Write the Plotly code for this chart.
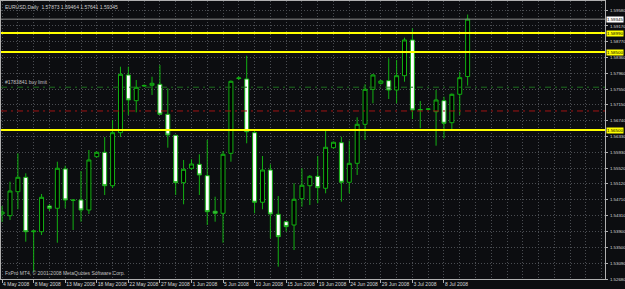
import datetime as dt
import plotly.graph_objects as go

# ---- data (EURUSD daily) ----
dates = [
    "2008-05-04", "2008-05-05", "2008-05-06", "2008-05-07", "2008-05-08", "2008-05-09",
    "2008-05-11", "2008-05-12", "2008-05-13", "2008-05-14", "2008-05-15", "2008-05-16",
    "2008-05-18", "2008-05-19", "2008-05-20", "2008-05-21", "2008-05-22", "2008-05-23",
    "2008-05-25", "2008-05-26", "2008-05-27", "2008-05-28", "2008-05-29", "2008-05-30",
    "2008-06-01", "2008-06-02", "2008-06-03", "2008-06-04", "2008-06-05", "2008-06-06",
    "2008-06-08", "2008-06-09", "2008-06-10", "2008-06-11", "2008-06-12", "2008-06-13",
    "2008-06-15", "2008-06-16", "2008-06-17", "2008-06-18", "2008-06-19", "2008-06-20",
    "2008-06-22", "2008-06-23", "2008-06-24", "2008-06-25", "2008-06-26", "2008-06-27",
    "2008-06-29", "2008-06-30", "2008-07-01", "2008-07-02", "2008-07-03", "2008-07-04",
    "2008-07-06", "2008-07-07", "2008-07-08", "2008-07-09", "2008-07-10", "2008-07-11",
]
opens = [
    1.54347, 1.54304, 1.54919, 1.55289, 1.53893, 1.53893,
    1.54553, 1.54494, 1.55502, 1.54707, 1.54707, 1.54450,
    1.55817, 1.55930, 1.55073, 1.56433, 1.57913, 1.57254,
    1.57630, 1.57649, 1.57674, 1.56905, 1.56366, 1.55150,
    1.55520, 1.55622, 1.55330, 1.54417, 1.54365, 1.55904,
    1.57823, 1.57810, 1.56433, 1.54648, 1.55476, 1.54340,
    1.54150, 1.54065, 1.54740, 1.55073, 1.55314, 1.55007,
    1.56048, 1.56176, 1.55161, 1.55648, 1.56648, 1.57546,
    1.57700, 1.57767, 1.57528, 1.57895, 1.58811, 1.57015,
    1.57033, 1.56971, 1.57254, 1.56689, 1.57418, 1.57873,
]
highs = [
    1.54553, 1.55176, 1.55904, 1.55391, 1.53924, 1.54860,
    1.54604, 1.55689, 1.55586, 1.54719, 1.55450, 1.55989,
    1.55951, 1.56322, 1.56759, 1.58126, 1.58126, 1.57785,
    1.57669, 1.57869, 1.58169, 1.57572, 1.56374, 1.55733,
    1.55750, 1.55879, 1.56246, 1.54791, 1.55963, 1.57772,
    1.57874, 1.58408, 1.56502, 1.55835, 1.55622, 1.54809,
    1.54168, 1.55135, 1.55520, 1.55348, 1.55835, 1.56484,
    1.56207, 1.56330, 1.56228, 1.56828, 1.57674, 1.57938,
    1.57785, 1.58341, 1.58298, 1.58870, 1.59111, 1.57246,
    1.57066, 1.57528, 1.57356, 1.57438, 1.57997, 1.59464,
]
lows = [
    1.54142, 1.54194, 1.54468, 1.53637, 1.52860, 1.53809,
    1.54424, 1.53611, 1.54494, 1.53937, 1.54150, 1.54347,
    1.55797, 1.54835, 1.55014, 1.56322, 1.56887, 1.56956,
    1.57605, 1.57400, 1.56887, 1.56048, 1.54835, 1.54596,
    1.55476, 1.54835, 1.54065, 1.54150, 1.53611, 1.55689,
    1.57785, 1.56161, 1.54365, 1.54468, 1.53724, 1.52996,
    1.53893, 1.53424, 1.54535, 1.54578, 1.54622, 1.54878,
    1.56028, 1.54663, 1.54878, 1.55348, 1.56246, 1.57187,
    1.57669, 1.57297, 1.57187, 1.57741, 1.56784, 1.56546,
    1.57002, 1.56099, 1.56289, 1.56502, 1.56887, 1.57641,
]
closes = [
    1.54399, 1.54937, 1.55289, 1.53893, 1.53911, 1.54776,
    1.54494, 1.55520, 1.54707, 1.54699, 1.54450, 1.55733,
    1.55930, 1.55073, 1.56433, 1.57931, 1.57272, 1.57597,
    1.57644, 1.57700, 1.56905, 1.56374, 1.55150, 1.55494,
    1.55630, 1.55348, 1.54406, 1.54365, 1.55879, 1.57751,
    1.57836, 1.56458, 1.54648, 1.55476, 1.54347, 1.53765,
    1.54022, 1.54725, 1.55084, 1.55314, 1.55022, 1.56058,
    1.56187, 1.55161, 1.55648, 1.56648, 1.57546, 1.57913,
    1.57759, 1.57528, 1.57895, 1.58811, 1.57015, 1.57028,
    1.57041, 1.57272, 1.56674, 1.57418, 1.57844, 1.59345,
]
price_ticks = [1.52680, 1.53090, 1.53500, 1.53900, 1.54310, 1.54710, 1.55120, 1.55520,
               1.55930, 1.56330, 1.56740, 1.57150, 1.57550, 1.57960, 1.58360, 1.58770,
               1.59170, 1.59580]
yellow_levels = [1.58990, 1.58500, 1.56500]
buy_limit_level = 1.57600
stop_level = 1.56990
buy_limit_label = "#1783841 buy limit"
symbol_label = "EURUSD,Daily"
footer_label = "FxPro MT4, © 2001-2008 MetaQuotes Software Corp."

# ---- layout helpers ----
BG = "#0c0d10"
GRID = "#4a4d52"
GRID_DASH = "1px,2px"
GREEN = "#12b012"
FONT = "Liberation Sans"
FS = 5
FS_Y = 4.4

x = list(range(len(dates)))
label_step = 4
label_pos = [i for i in x if i % label_step == 0]
label_txt = []
for i in label_pos:
    d = dt.date.fromisoformat(dates[i])
    label_txt.append(f"{d.day} {d.strftime('%b')} {d.year}")
x_max = 76.41
grid_pos = list(range(0, 77, 2))

fig = go.Figure()
fig.add_trace(go.Candlestick(
    x=x, open=opens, high=highs, low=lows, close=closes,
    increasing=dict(line=dict(color=GREEN, width=1), fillcolor="#000000"),
    decreasing=dict(line=dict(color=GREEN, width=1), fillcolor="#ffffff"),
    whiskerwidth=0, showlegend=False, hoverinfo="skip",
))

shapes = []
shapes.append(dict(type="line", xref="paper", x0=0, x1=1, yref="y",
                   y0=closes[-1], y1=closes[-1], line=dict(color="#8a8a8a", width=1)))
shapes.append(dict(type="line", xref="paper", x0=0, x1=1, yref="y",
                   y0=buy_limit_level, y1=buy_limit_level,
                   line=dict(color="#1e6e1e", width=1, dash="6px,4px,2px,4px")))
shapes.append(dict(type="line", xref="paper", x0=0, x1=1, yref="y",
                   y0=stop_level, y1=stop_level,
                   line=dict(color="#a01414", width=1, dash="6px,4px,2px,4px")))
for lv in yellow_levels:
    shapes.append(dict(type="line", xref="paper", x0=0, x1=1, yref="y",
                       y0=lv, y1=lv, line=dict(color="#ffff00", width=2)))

annotations = []
annotations.append(dict(
    xref="paper", yref="paper", x=0.003, y=0.998, xanchor="left", yanchor="top",
    text=f"{symbol_label}  {opens[-1]:.5f} {highs[-1]:.5f} {lows[-1]:.5f} {closes[-1]:.5f}",
    showarrow=False, font=dict(family=FONT, size=FS, color="#d0d0d0")))
annotations.append(dict(
    xref="paper", yref="paper", x=0.003, y=0.004, xanchor="left", yanchor="bottom",
    text=footer_label, showarrow=False, font=dict(family=FONT, size=FS, color="#c0c0c0")))
annotations.append(dict(
    xref="paper", yref="y", x=0.003, y=buy_limit_level, xanchor="left", yanchor="bottom",
    text=buy_limit_label, showarrow=False,
    font=dict(family=FONT, size=FS, color="#c0c0c0")))
for lv in yellow_levels:
    annotations.append(dict(
        xref="paper", yref="y", x=1, y=lv, xanchor="left", yanchor="middle", xshift=1,
        text=f"{lv:.5f}", showarrow=False, bgcolor="#ffff00", borderpad=0,
        font=dict(family=FONT, size=FS_Y, color="#000000")))
annotations.append(dict(
    xref="paper", yref="y", x=1, y=closes[-1], xanchor="left", yanchor="middle", xshift=1,
    text=f"{closes[-1]:.5f}", showarrow=False, bgcolor="#ffffff", borderpad=0,
    font=dict(family=FONT, size=FS_Y, color="#000000")))

fig.update_layout(
    width=625, height=289,
    margin=dict(l=1, r=20, t=1, b=10, autoexpand=False),
    paper_bgcolor=BG, plot_bgcolor=BG,
    boxgap=0.28,
    shapes=shapes, annotations=annotations,
    font=dict(family=FONT, size=FS, color="#d0d0d0"),
    xaxis=dict(
        range=[-0.14, x_max], rangeslider=dict(visible=False),
        tickmode="array", tickvals=label_pos, ticktext=label_txt, tickangle=0,
        ticks="outside", ticklen=3, tickcolor="#b0b0b0",
        ticklabelposition="outside right", ticklabelstandoff=0,
        tickfont=dict(family=FONT, size=FS, color="#d8d8d8"),
        showgrid=True, gridcolor=GRID, griddash=GRID_DASH, gridwidth=1,
        minor=dict(tickvals=grid_pos, showgrid=True, gridcolor=GRID, griddash=GRID_DASH,
                   gridwidth=1, ticks=""),
        showline=True, linecolor="#b0b0b0", linewidth=1, mirror=True,
        zeroline=False, fixedrange=True, automargin=False,
    ),
    yaxis=dict(
        range=[1.52680, 1.59811], side="right",
        tickmode="array", tickvals=price_ticks, tickformat=".5f",
        ticks="outside", ticklen=2, tickcolor="#b0b0b0", ticklabelstandoff=1,
        tickfont=dict(family=FONT, size=FS_Y, color="#d8d8d8"),
        showgrid=True, gridcolor=GRID, griddash=GRID_DASH, gridwidth=1,
        showline=True, linecolor="#b0b0b0", linewidth=1, mirror=True,
        zeroline=False, fixedrange=True, automargin=False,
    ),
)

fig.write_html("out.html")
